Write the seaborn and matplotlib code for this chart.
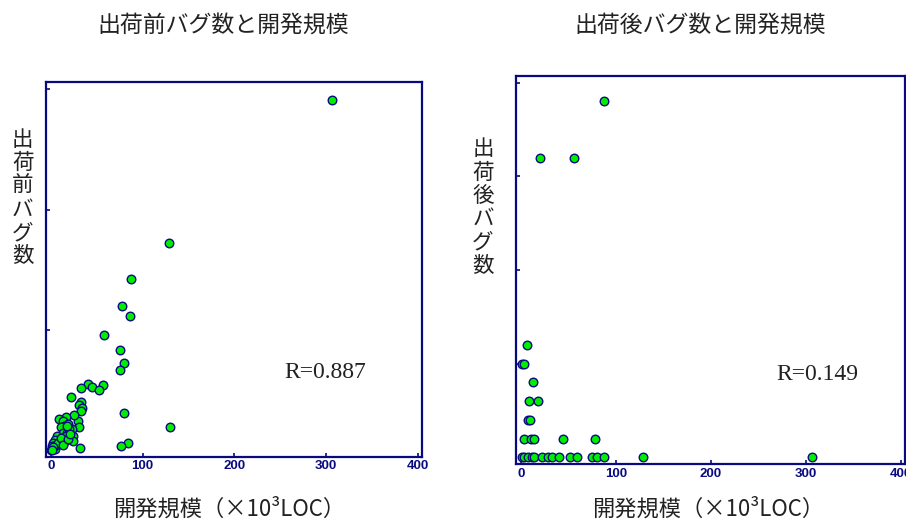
import matplotlib
matplotlib.use("Agg")
import matplotlib.pyplot as plt
import seaborn as sns
import pandas as pd

# Pre-release bugs vs. development size (kLOC)
pre_loc = [306.5, 128.4, 87.3, 77.1, 86.2, 58.2, 75.6, 79.3, 75.6, 40.0,
           56.4, 45.0, 52.0, 32.5, 21.5, 32.4, 30.4, 34.2, 33.2, 79.8,
           130.0, 83.6, 76.5, 32.2, 29.8, 31.0, 25.3, 16.2, 9.1, 13.5,
           18.6, 22.6, 14.2, 10.9, 12.8, 18.0, 20.0, 24.3, 16.0, 23.7,
           15.3, 9.8, 6.9, 4.4, 2.5, 0.7, -0.3, 4.0, 6.0, 8.0,
           11.0, 2.0, 1.0, 13.0, 19.0, 17.0, 21.0]
pre_bugs = [291.0, 172.7, 142.8, 120.4, 112.2, 95.9, 84.0, 72.7, 66.9, 55.2,
            55.0, 53.0, 50.8, 52.2, 45.0, 40.5, 37.8, 35.6, 33.4, 31.3,
            20.0, 6.5, 3.9, 2.5, 25.2, 20.0, 29.4, 28.2, 26.6, 25.0,
            22.4, 18.4, 20.5, 20.2, 15.0, 15.0, 18.0, 12.8, 12.2, 8.0,
            8.0, 9.4, 12.2, 9.4, 6.7, 3.9, 1.2, 2.0, 5.0, 7.0,
            11.0, 3.0, 1.0, 5.0, 10.0, 21.0, 14.0]

# Post-release bugs vs. development size (kLOC)
post_loc = [87.4, 19.6, 56.1, 6.6, 0.7, 3.2, 12.3, 8.4, 18.3, 7.7,
            9.5, 3.2, 10.2, 14.0, 44.7, 77.4,
            0.7, 3.2, 7.7, 11.9, 14.0, 21.8, 28.8, 33.0, 40.1, 51.7,
            58.8, 74.6, 79.9, 86.9, 128.1, 306.3]
post_bugs = [19, 16, 16, 6, 5, 5, 4, 3, 3, 2,
             2, 1, 1, 1, 1, 1,
             0, 0, 0, 0, 0, 0, 0, 0, 0, 0,
             0, 0, 0, 0, 0, 0]

titles = ["出荷前バグ数と開発規模", "出荷後バグ数と開発規模"]
ylabels = ["出荷前バグ数", "出荷後バグ数"]
xlabel = "開発規模（×10³LOC）"
r_labels = ["R=0.887", "R=0.149"]
x_ticks = [0, 100, 200, 300, 400]
pre_yticks = [100, 200, 300]
post_yticks = [5, 10, 15, 20]

sns.set_style("white")
cjk = ["Noto Sans CJK JP", "DejaVu Sans"]
plt.rcParams["font.family"] = cjk

NAVY = "#0a0a80"
GREEN = "#00ee00"
TEXT = "#222222"

fig = plt.figure(figsize=(9.06, 5.2), dpi=100)
ax1 = fig.add_axes([0.0504, 0.1212, 0.4151, 0.7211])
ax2 = fig.add_axes([0.5692, 0.1071, 0.4297, 0.7473])

pre_df = pd.DataFrame({"loc": pre_loc, "bugs": pre_bugs})
post_df = pd.DataFrame({"loc": post_loc, "bugs": post_bugs})

panels = [
    (ax1, pre_df, (-5.8, 404.5), (-5, 306), pre_yticks),
    (ax2, post_df, (-5.6, 404.2), (-0.37, 20.37), post_yticks),
]

for ax, df, xlim, ylim, yt in panels:
    sns.scatterplot(data=df, x="loc", y="bugs", ax=ax, s=38,
                    color=GREEN, edgecolor=NAVY, linewidth=1.0,
                    zorder=3, clip_on=False)
    ax.set_xlim(*xlim)
    ax.set_ylim(*ylim)
    ax.set_xticks(x_ticks)
    ax.set_yticks(yt)
    ax.set_xlabel("")
    ax.set_ylabel("")
    ax.set_yticklabels([])
    ax.tick_params(axis="both", direction="in", length=3, width=1.2,
                   color=NAVY, bottom=True, left=True, top=False, right=False)
    ax.tick_params(axis="x", pad=2.5)
    for lbl in ax.get_xticklabels():
        lbl.set_fontfamily(["Liberation Sans Narrow", "Liberation Sans"])
        lbl.set_fontweight("bold")
        lbl.set_fontsize(9.5)
        lbl.set_color(NAVY)
    for sp in ax.spines.values():
        sp.set_color(NAVY)
        sp.set_linewidth(1.6)
        sp.set_visible(True)
    ax.grid(False)

# Titles
fig.text(223 / 906, 1 - 25 / 520, titles[0], ha="center", va="center",
         fontsize=16.5, color=TEXT)
fig.text(700 / 906, 1 - 25 / 520, titles[1], ha="center", va="center",
         fontsize=16.5, color=TEXT)

# Vertical stacked y labels
fig.text(22.7 / 906, 1 - 198 / 520, "\n".join(ylabels[0]), ha="center",
         va="center", fontsize=15.5, color=TEXT, linespacing=1.08)
fig.text(483 / 906, 1 - 207.5 / 520, "\n".join(ylabels[1]), ha="center",
         va="center", fontsize=15.5, color=TEXT, linespacing=1.08)

# X labels
fig.text(229.5 / 906, 1 - 509 / 520, xlabel, ha="center", va="center",
         fontsize=16, color=TEXT)
fig.text(708 / 906, 1 - 509 / 520, xlabel, ha="center", va="center",
         fontsize=16, color=TEXT)

# Correlation coefficients
ax1.text(0.636, 0.224, r_labels[0], transform=ax1.transAxes, ha="left",
         va="center", fontsize=17, color=TEXT, fontfamily="Liberation Serif")
ax2.text(0.669, 0.23, r_labels[1], transform=ax2.transAxes, ha="left",
         va="center", fontsize=17, color=TEXT, fontfamily="Liberation Serif")

fig.savefig("out.png", dpi=100, facecolor="white")
